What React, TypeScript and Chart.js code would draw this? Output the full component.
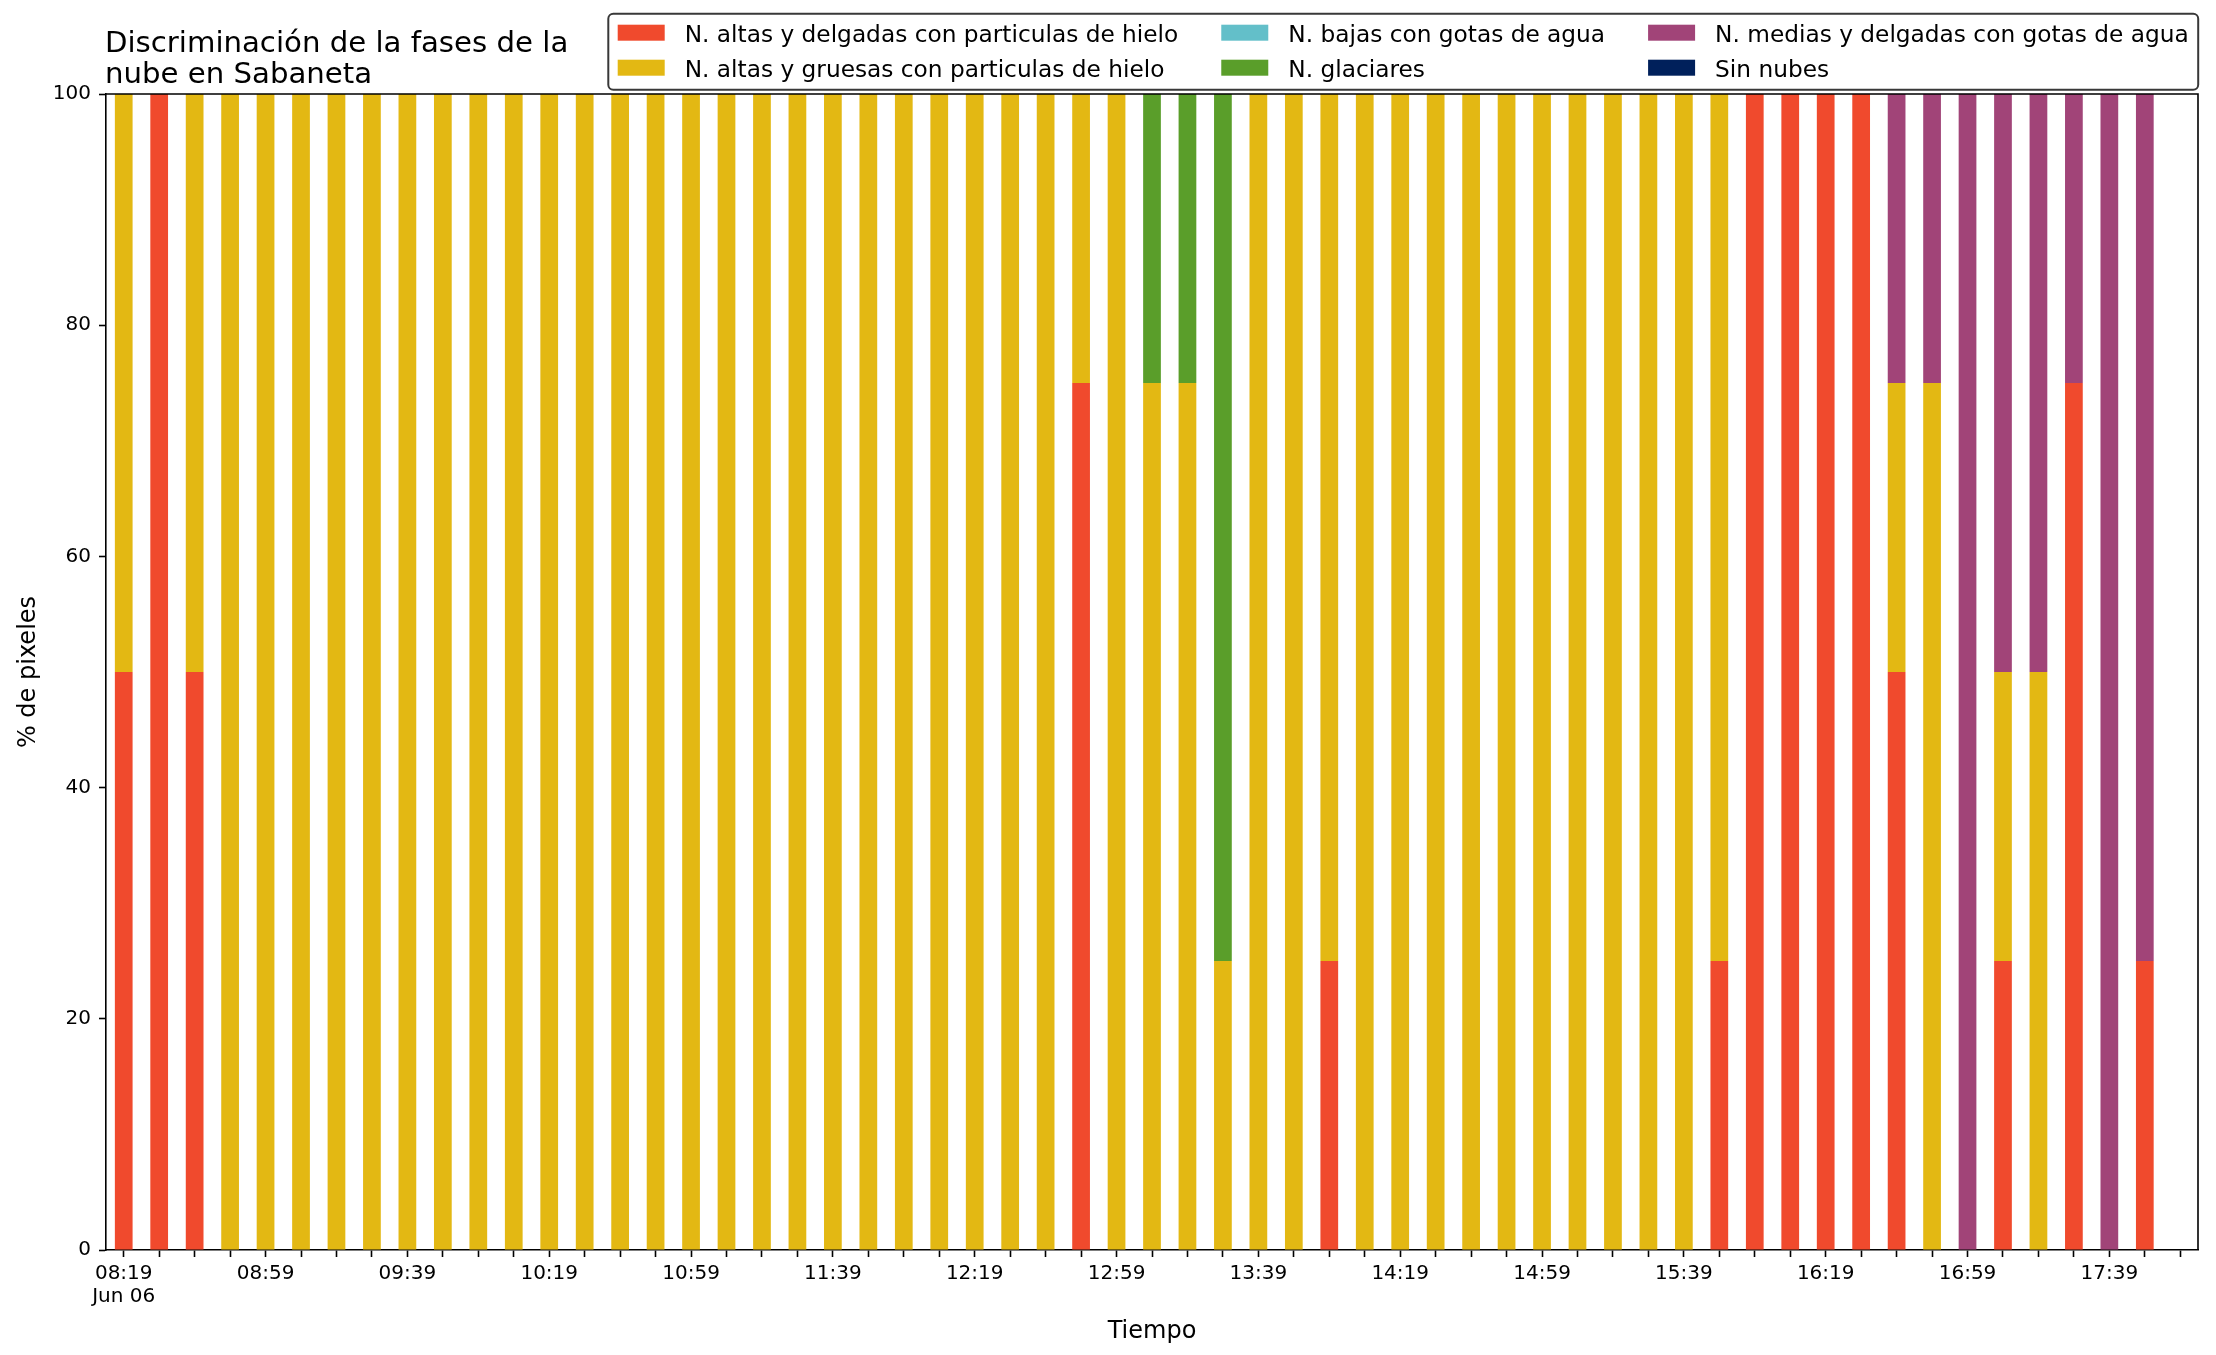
import React, { useEffect, useRef } from 'react';
import { Chart, registerables } from 'chart.js';

Chart.register(...registerables);

// ---------- DATA ----------
const times = [
  '08:19', '08:29', '08:39', '08:49', '08:59', '09:09', '09:19', '09:29', '09:39', '09:49',
  '09:59', '10:09', '10:19', '10:29', '10:39', '10:49', '10:59', '11:09', '11:19', '11:29',
  '11:39', '11:49', '11:59', '12:09', '12:19', '12:29', '12:39', '12:49', '12:59', '13:09',
  '13:19', '13:29', '13:39', '13:49', '13:59', '14:09', '14:19', '14:29', '14:39', '14:49',
  '14:59', '15:09', '15:19', '15:29', '15:39', '15:49', '15:59', '16:09', '16:19', '16:29',
  '16:39', '16:49', '16:59', '17:09', '17:19', '17:29', '17:39', '17:49', '17:59',
];

const tickLabels = [
  '08:19', '08:59', '09:39', '10:19', '10:59', '11:39', '12:19', '12:59',
  '13:39', '14:19', '14:59', '15:39', '16:19', '16:59', '17:39',
];
const dateLabel = 'Jun 06';

const seriesNames = [
  'N. altas y delgadas con particulas de hielo',
  'N. altas y gruesas con particulas de hielo',
  'N. bajas con gotas de agua',
  'N. glaciares',
  'N. medias y delgadas con gotas de agua',
  'Sin nubes',
];
const seriesColors = ['#F04A2D', '#E3B813', '#63BFC9', '#5A9E2A', '#A14478', '#00205B'];

const altasDelgadas = [
  50, 100, 50, 0, 0, 0, 0, 0, 0, 0,
  0, 0, 0, 0, 0, 0, 0, 0, 0, 0,
  0, 0, 0, 0, 0, 0, 0, 75, 0, 0,
  0, 0, 0, 0, 25, 0, 0, 0, 0, 0,
  0, 0, 0, 0, 0, 25, 100, 100, 100, 100,
  50, 0, 0, 25, 0, 75, 0, 25, 0,
];
const altasGruesas = [
  50, 0, 50, 100, 100, 100, 100, 100, 100, 100,
  100, 100, 100, 100, 100, 100, 100, 100, 100, 100,
  100, 100, 100, 100, 100, 100, 100, 25, 100, 75,
  75, 25, 100, 100, 75, 100, 100, 100, 100, 100,
  100, 100, 100, 100, 100, 75, 0, 0, 0, 0,
  25, 75, 0, 25, 50, 0, 0, 0, 0,
];
const bajasAgua = [
  0, 0, 0, 0, 0, 0, 0, 0, 0, 0,
  0, 0, 0, 0, 0, 0, 0, 0, 0, 0,
  0, 0, 0, 0, 0, 0, 0, 0, 0, 0,
  0, 0, 0, 0, 0, 0, 0, 0, 0, 0,
  0, 0, 0, 0, 0, 0, 0, 0, 0, 0,
  0, 0, 0, 0, 0, 0, 0, 0, 0,
];
const glaciares = [
  0, 0, 0, 0, 0, 0, 0, 0, 0, 0,
  0, 0, 0, 0, 0, 0, 0, 0, 0, 0,
  0, 0, 0, 0, 0, 0, 0, 0, 0, 25,
  25, 75, 0, 0, 0, 0, 0, 0, 0, 0,
  0, 0, 0, 0, 0, 0, 0, 0, 0, 0,
  0, 0, 0, 0, 0, 0, 0, 0, 0,
];
const mediasAgua = [
  0, 0, 0, 0, 0, 0, 0, 0, 0, 0,
  0, 0, 0, 0, 0, 0, 0, 0, 0, 0,
  0, 0, 0, 0, 0, 0, 0, 0, 0, 0,
  0, 0, 0, 0, 0, 0, 0, 0, 0, 0,
  0, 0, 0, 0, 0, 0, 0, 0, 0, 0,
  25, 25, 100, 50, 50, 25, 100, 75, 0,
];
const sinNubes = [
  0, 0, 0, 0, 0, 0, 0, 0, 0, 0,
  0, 0, 0, 0, 0, 0, 0, 0, 0, 0,
  0, 0, 0, 0, 0, 0, 0, 0, 0, 0,
  0, 0, 0, 0, 0, 0, 0, 0, 0, 0,
  0, 0, 0, 0, 0, 0, 0, 0, 0, 0,
  0, 0, 0, 0, 0, 0, 0, 0, 0,
];
const seriesValues = [altasDelgadas, altasGruesas, bajasAgua, glaciares, mediasAgua, sinNubes];

const yTicks = [0, 20, 40, 60, 80, 100];
const titleLines = ['Discriminación de la fases de la', 'nube en Sabaneta'];
const xTitle = 'Tiempo';
const yTitle = '% de pixeles';

// ---------- STYLE ----------
const W = 2216;
const H = 1355;
const FONT = '"DejaVu Sans", sans-serif';

const figTitlePlugin = {
  id: 'figTitle',
  afterDraw(chart: any) {
    const { ctx } = chart;
    ctx.save();
    ctx.fillStyle = '#000';
    ctx.font = `29.2px ${FONT}`;
    ctx.textAlign = 'left';
    ctx.textBaseline = 'alphabetic';
    ctx.fillText(titleLines[0], 105, 51.7);
    ctx.fillText(titleLines[1], 105, 82.7);
    ctx.restore();
  },
};

const boxLegendPlugin = {
  id: 'boxLegend',
  afterDraw(chart: any) {
    const { ctx } = chart;
    const ds = chart.data.datasets;
    const fs = 23.25;
    ctx.save();
    ctx.font = `${fs}px ${FONT}`;
    const patchW = 47;
    const patchH = 16;
    const textGap = 20;
    const colGap = 43;
    const pad = 9.4;
    const left = 608.3;
    const top = 13.7;
    const bottom = 89.7;
    const rowBase = [42.3, 77.3];
    const rowPatchTop = [24.7, 59.7];
    const ncol = 3;
    const nrow = 2;
    const colWidths: number[] = [];
    for (let c = 0; c < ncol; c++) {
      let m = 0;
      for (let r = 0; r < nrow; r++) {
        const i = c * nrow + r;
        if (i < ds.length) m = Math.max(m, ctx.measureText(ds[i].label).width);
      }
      colWidths.push(m);
    }
    let x = left + pad;
    const colX: number[] = [];
    for (let c = 0; c < ncol; c++) {
      colX.push(x);
      x += patchW + textGap + colWidths[c] + (c < ncol - 1 ? colGap : 0);
    }
    const right = x + pad;
    // frame
    const rad = 5;
    ctx.beginPath();
    ctx.moveTo(left + rad, top);
    ctx.lineTo(right - rad, top);
    ctx.arcTo(right, top, right, top + rad, rad);
    ctx.lineTo(right, bottom - rad);
    ctx.arcTo(right, bottom, right - rad, bottom, rad);
    ctx.lineTo(left + rad, bottom);
    ctx.arcTo(left, bottom, left, bottom - rad, rad);
    ctx.lineTo(left, top + rad);
    ctx.arcTo(left, top, left + rad, top, rad);
    ctx.closePath();
    ctx.fillStyle = 'rgba(255,255,255,0.8)';
    ctx.fill();
    ctx.lineWidth = 2;
    ctx.strokeStyle = 'rgba(0,0,0,0.78)';
    ctx.stroke();
    // entries
    ctx.textAlign = 'left';
    ctx.textBaseline = 'alphabetic';
    for (let c = 0; c < ncol; c++) {
      for (let r = 0; r < nrow; r++) {
        const i = c * nrow + r;
        if (i >= ds.length) continue;
        ctx.fillStyle = ds[i].backgroundColor;
        ctx.fillRect(colX[c], rowPatchTop[r], patchW, patchH);
        ctx.fillStyle = '#000';
        ctx.fillText(ds[i].label, colX[c] + patchW + textGap, rowBase[r]);
      }
    }
    ctx.restore();
  },
};

const axesFramePlugin = {
  id: 'axesFrame',
  afterDatasetsDraw(chart: any) {
    const { ctx, chartArea: a } = chart;
    ctx.save();
    ctx.strokeStyle = '#000';
    ctx.lineWidth = 1.6;
    ctx.beginPath();
    ctx.moveTo(a.left, a.top);
    ctx.lineTo(a.right, a.top);
    ctx.lineTo(a.right, a.bottom);
    ctx.stroke();
    ctx.restore();
  },
};

export default function App() {
  const canvasRef = useRef<HTMLCanvasElement | null>(null);

  useEffect(() => {
    document.body.style.margin = '0';
    document.body.style.overflow = 'hidden';
    const canvas = canvasRef.current;
    if (!canvas) return;
    const chart = new Chart(canvas, {
      type: 'bar',
      data: {
        labels: times,
        datasets: seriesNames.map((name, i) => ({
          label: name,
          data: seriesValues[i],
          backgroundColor: seriesColors[i],
          borderWidth: 0,
          barPercentage: 0.5,
          categoryPercentage: 1.0,
        })),
      },
      options: {
        responsive: false,
        animation: false,
        devicePixelRatio: 1,
        layout: { padding: { top: 94, right: 18, left: 0, bottom: 0 } },
        plugins: {
          legend: { display: false },
          title: { display: false },
          tooltip: { enabled: false },
        },
        scales: {
          x: {
            stacked: true,
            offset: true,
            afterFit: (s: any) => { s.height = 105; },
            grid: {
              display: true,
              drawOnChartArea: false,
              drawTicks: true,
              tickLength: 7,
              offset: false,
              tickColor: '#000',
              tickWidth: 1.6,
            },
            border: { display: true, color: '#000', width: 1.6 },
            ticks: {
              autoSkip: false,
              maxRotation: 0,
              minRotation: 0,
              padding: 5,
              color: '#000',
              font: { family: FONT, size: 20, lineHeight: 1.165 },
              callback: (_v: any, index: number) => {
                const lab = times[index];
                if (index === 0) return [lab, dateLabel];
                return tickLabels.includes(lab) ? lab : '';
              },
            },
            title: {
              display: true,
              text: xTitle,
              color: '#000',
              font: { family: FONT, size: 24, lineHeight: 1.2 },
              padding: { top: 0, bottom: 9 },
            },
          },
          y: {
            stacked: true,
            min: 0,
            max: 100,
            afterFit: (s: any) => { s.width = 106; },
            afterBuildTicks: (s: any) => { s.ticks = yTicks.map((v) => ({ value: v })); },
            grid: {
              display: true,
              drawOnChartArea: false,
              drawTicks: true,
              tickLength: 7,
              tickColor: '#000',
              tickWidth: 1.6,
            },
            border: { display: true, color: '#000', width: 1.6 },
            ticks: {
              padding: 8,
              color: '#000',
              font: { family: FONT, size: 20 },
            },
            title: {
              display: true,
              text: yTitle,
              color: '#000',
              font: { family: FONT, size: 24, lineHeight: 1.2 },
              padding: { top: 14, bottom: 0 },
            },
          },
        },
      },
      plugins: [axesFramePlugin, figTitlePlugin, boxLegendPlugin],
    } as any);
    return () => chart.destroy();
  }, []);

  return (
    <div style={{ position: 'absolute', left: 0, top: 0, width: W, height: H, background: '#fff' }}>
      <canvas ref={canvasRef} width={W} height={H} style={{ width: W, height: H, display: 'block' }} />
    </div>
  );
}
